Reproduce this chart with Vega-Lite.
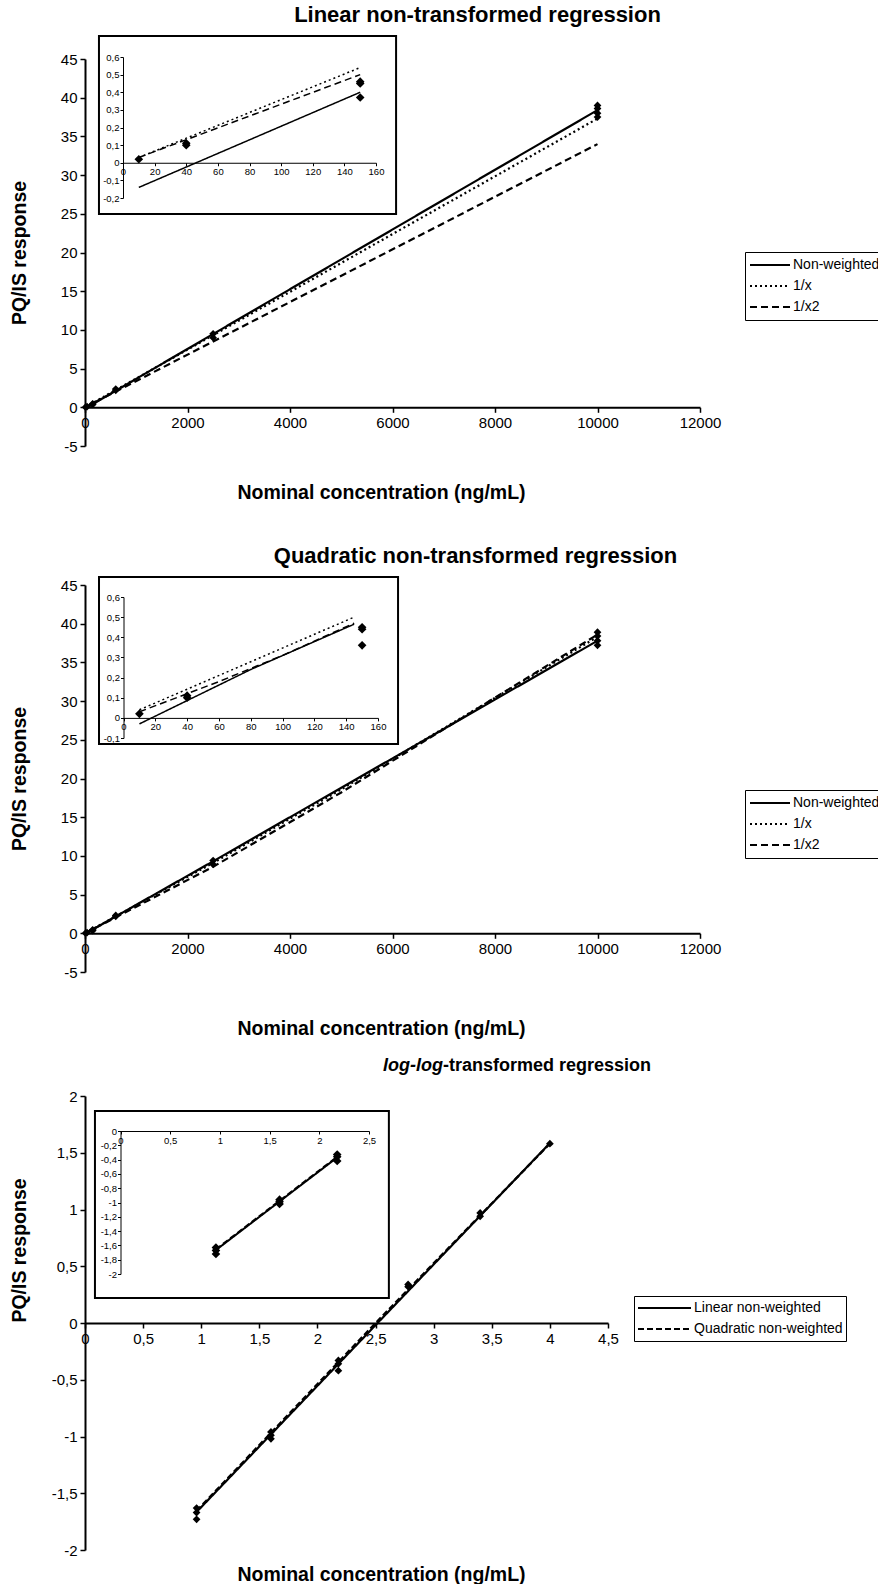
{
  "$schema": "https://vega.github.io/schema/vega-lite/v6.json",
  "background": "white",
  "padding": {"left": 9, "top": 4, "right": 0, "bottom": 0},
  "config": {
    "font": "Liberation Sans",
    "view": {"stroke": null},
    "axis": {"grid": false, "domainColor": "black", "domainWidth": 2, "tickColor": "black", "tickWidth": 1.5, "tickSize": 5, "labelColor": "black", "labelFontSize": 15, "labelOverlap": false, "labelFlush": false, "labelPadding": 3, "titleColor": "black", "titleFontSize": 19.5, "titleFontWeight": "bold", "tickCount": 40},
    "title": {"fontSize": 22, "fontWeight": "bold", "color": "black"},
    "legend": {"title": null, "orient": "none", "strokeColor": "black", "padding": 4, "symbolType": "stroke", "symbolSize": 1600, "symbolStrokeWidth": 2, "symbolStrokeColor": "black", "labelFontSize": 14, "labelColor": "black", "rowPadding": 3, "labelOffset": 2, "clipHeight": 18}
  },
  "spacing": 43,
  "resolve": {"scale": {"strokeDash": "independent"}, "legend": {"strokeDash": "independent"}},
  "datasets": {
    "p1pts": [
      {"conc": 10, "resp": 0.02}, {"conc": 40, "resp": 0.1}, {"conc": 150, "resp": 0.45}, {"conc": 150, "resp": 0.37},
      {"conc": 600, "resp": 2.2}, {"conc": 600, "resp": 2.35}, {"conc": 2500, "resp": 9.0}, {"conc": 2500, "resp": 9.5},
      {"conc": 10000, "resp": 37.5}, {"conc": 10000, "resp": 38.0}, {"conc": 10000, "resp": 38.6}, {"conc": 10000, "resp": 39.0}
    ],
    "p1lines": [
      {"model": "Non-weighted", "conc": 10, "resp": -0.14}, {"model": "Non-weighted", "conc": 10000, "resp": 38.4},
      {"model": "1/x", "conc": 10, "resp": 0.03}, {"model": "1/x", "conc": 10000, "resp": 37.3},
      {"model": "1/x2", "conc": 10, "resp": 0.03}, {"model": "1/x2", "conc": 10000, "resp": 34.0}
    ],
    "p1ipts": [
      {"conc": 10, "resp": 0.02}, {"conc": 40, "resp": 0.10}, {"conc": 40, "resp": 0.11},
      {"conc": 150, "resp": 0.45}, {"conc": 150, "resp": 0.46}, {"conc": 150, "resp": 0.37}
    ],
    "p1ilines": [
      {"model": "Non-weighted", "conc": 10, "resp": -0.14}, {"model": "Non-weighted", "conc": 150, "resp": 0.40},
      {"model": "1/x", "conc": 10, "resp": 0.03}, {"model": "1/x", "conc": 150, "resp": 0.54},
      {"model": "1/x2", "conc": 10, "resp": 0.03}, {"model": "1/x2", "conc": 150, "resp": 0.50}
    ],
    "p2pts": [
      {"conc": 10, "resp": 0.02}, {"conc": 40, "resp": 0.1}, {"conc": 150, "resp": 0.45}, {"conc": 150, "resp": 0.36},
      {"conc": 600, "resp": 2.2}, {"conc": 600, "resp": 2.3}, {"conc": 2500, "resp": 8.9}, {"conc": 2500, "resp": 9.4},
      {"conc": 10000, "resp": 37.2}, {"conc": 10000, "resp": 37.8}, {"conc": 10000, "resp": 38.4}, {"conc": 10000, "resp": 38.9}
    ],
    "p2lines": [
      {"model": "Non-weighted", "conc": 10, "resp": -0.03}, {"model": "Non-weighted", "conc": 2500, "resp": 9.3}, {"model": "Non-weighted", "conc": 5000, "resp": 18.8}, {"model": "Non-weighted", "conc": 10000, "resp": 37.8},
      {"model": "1/x", "conc": 10, "resp": 0.04}, {"model": "1/x", "conc": 2500, "resp": 9.1}, {"model": "1/x", "conc": 5000, "resp": 18.6}, {"model": "1/x", "conc": 10000, "resp": 38.3},
      {"model": "1/x2", "conc": 10, "resp": 0.03}, {"model": "1/x2", "conc": 2500, "resp": 8.6}, {"model": "1/x2", "conc": 5000, "resp": 18.2}, {"model": "1/x2", "conc": 10000, "resp": 38.6}
    ],
    "p2ipts": [
      {"conc": 10, "resp": 0.02}, {"conc": 40, "resp": 0.10}, {"conc": 40, "resp": 0.11},
      {"conc": 150, "resp": 0.45}, {"conc": 150, "resp": 0.44}, {"conc": 150, "resp": 0.36}
    ],
    "p2ilines": [
      {"model": "Non-weighted", "conc": 10, "resp": -0.03}, {"model": "Non-weighted", "conc": 80, "resp": 0.24}, {"model": "Non-weighted", "conc": 145, "resp": 0.465},
      {"model": "1/x", "conc": 10, "resp": 0.04}, {"model": "1/x", "conc": 145, "resp": 0.50},
      {"model": "1/x2", "conc": 10, "resp": 0.03}, {"model": "1/x2", "conc": 60, "resp": 0.18}, {"model": "1/x2", "conc": 100, "resp": 0.31}, {"model": "1/x2", "conc": 145, "resp": 0.47}
    ],
    "p3pts": [
      {"conc": 0.96, "resp": -1.63}, {"conc": 0.96, "resp": -1.67}, {"conc": 0.96, "resp": -1.73},
      {"conc": 1.6, "resp": -0.96}, {"conc": 1.6, "resp": -0.99}, {"conc": 1.6, "resp": -1.02},
      {"conc": 2.18, "resp": -0.33}, {"conc": 2.18, "resp": -0.36}, {"conc": 2.18, "resp": -0.42},
      {"conc": 2.78, "resp": 0.32}, {"conc": 2.78, "resp": 0.34},
      {"conc": 3.4, "resp": 0.94}, {"conc": 3.4, "resp": 0.97},
      {"conc": 4.0, "resp": 1.58}
    ],
    "p3lines": [
      {"model": "Linear non-weighted", "conc": 0.96, "resp": -1.665}, {"model": "Linear non-weighted", "conc": 4.0, "resp": 1.585},
      {"model": "Quadratic non-weighted", "conc": 0.96, "resp": -1.655}, {"model": "Quadratic non-weighted", "conc": 2.5, "resp": 0.0}, {"model": "Quadratic non-weighted", "conc": 4.0, "resp": 1.58}
    ],
    "p3ipts": [
      {"conc": 0.96, "resp": -1.63}, {"conc": 0.96, "resp": -1.67}, {"conc": 0.96, "resp": -1.72},
      {"conc": 1.6, "resp": -0.96}, {"conc": 1.6, "resp": -0.99}, {"conc": 1.6, "resp": -1.02},
      {"conc": 2.18, "resp": -0.33}, {"conc": 2.18, "resp": -0.36}, {"conc": 2.18, "resp": -0.42}
    ],
    "p3ilines": [
      {"model": "Linear non-weighted", "conc": 0.96, "resp": -1.665}, {"model": "Linear non-weighted", "conc": 2.18, "resp": -0.37},
      {"model": "Quadratic non-weighted", "conc": 0.96, "resp": -1.655}, {"model": "Quadratic non-weighted", "conc": 2.18, "resp": -0.36}
    ]
  },
  "vconcat": [
    {
      "width": 615, "height": 387,
      "title": {"text": "Linear non-transformed regression", "frame": "group", "anchor": "middle", "dx": 85, "offset": 8},
      "resolve": {"scale": {"x": "independent", "y": "independent"}, "axis": {"x": "independent", "y": "independent"}},
      "layer": [
        {
          "layer": [
            {"data": {"name": "p1pts"}, "mark": {"type": "point", "shape": "diamond", "filled": true, "color": "black", "size": 60, "opacity": 1},
             "encoding": {
              "x": {"field": "conc", "type": "quantitative", "scale": {"domain": [0, 12000], "nice": false, "zero": false},
                    "axis": {"orient": "bottom", "offset": -38.7, "tickCount": 40, "values": [0, 2000, 4000, 6000, 8000, 10000, 12000], "labelExpr": "datum.value + ''", "labelOverlap": false, "title": "Nominal concentration (ng/mL)", "titleX": 296, "titleY": 85, "titleBaseline": "middle"}},
              "y": {"field": "resp", "type": "quantitative", "scale": {"domain": [-5, 45], "nice": false, "zero": false},
                    "axis": {"orient": "left", "tickCount": 40, "values": [-5, 0, 5, 10, 15, 20, 25, 30, 35, 40, 45], "labelExpr": "datum.value + ''", "labelOverlap": false, "title": "PQ/IS response", "titleX": -66, "titleBaseline": "middle", "titleAngle": 270}}
             }},
            {"data": {"name": "p1lines"}, "mark": {"type": "line", "color": "black", "strokeWidth": 2.2},
             "encoding": {
              "x": {"field": "conc", "type": "quantitative"},
              "y": {"field": "resp", "type": "quantitative"},
              "strokeDash": {"field": "model", "type": "nominal", "scale": {"domain": ["Non-weighted", "1/x", "1/x2"], "range": [[1, 0], [2, 3], [7, 4]]}, "legend": {"legendX": 660, "legendY": 193}}}}
          ]
        },
        {
          "layer": [
            {"data": {"values": [{"box": "inset"}]}, "mark": {"type": "rect", "fill": "white", "stroke": "black", "strokeWidth": 2},
             "encoding": {
              "x": {"datum": -15.2, "type": "quantitative", "scale": {"domain": [0, 160], "range": [38, 291], "nice": false, "zero": false},
                    "axis": {"orient": "bottom", "offset": -283.25, "zindex": 2, "tickCount": 40, "values": [0, 20, 40, 60, 80, 100, 120, 140, 160], "labelExpr": "datum.value + ''", "labelOverlap": false, "title": null, "labelFontSize": 9.5, "domainWidth": 1, "tickSize": 3, "tickWidth": 1, "labelPadding": 1}},
              "x2": {"datum": 172.7},
              "y": {"datum": 0.719, "type": "quantitative", "scale": {"domain": [-0.2, 0.6], "range": [139, -2], "nice": false, "zero": false},
                    "axis": {"orient": "left", "offset": -38, "zindex": 2, "tickCount": 40, "values": [-0.2, -0.1, 0, 0.1, 0.2, 0.3, 0.4, 0.5, 0.6], "labelExpr": "replace(datum.value + '', '.', ',')", "labelOverlap": false, "title": null, "labelFontSize": 9.5, "domainWidth": 1, "tickSize": 3, "tickWidth": 1, "labelPadding": 1}},
              "y2": {"datum": -0.291}
             }},
            {"data": {"name": "p1ipts"}, "mark": {"type": "point", "shape": "diamond", "filled": true, "color": "black", "size": 75, "opacity": 1},
             "encoding": {"x": {"field": "conc", "type": "quantitative"}, "y": {"field": "resp", "type": "quantitative"}}},
            {"data": {"name": "p1ilines"}, "mark": {"type": "line", "color": "black", "strokeWidth": 1.5},
             "encoding": {"x": {"field": "conc", "type": "quantitative"}, "y": {"field": "resp", "type": "quantitative"},
              "strokeDash": {"field": "model", "type": "nominal"}}}
          ]
        }
      ]
    },
    {
      "spacing": 19,
      "resolve": {"scale": {"strokeDash": "independent"}, "legend": {"strokeDash": "independent"}},
      "vconcat": [
        {
          "width": 615, "height": 387,
          "title": {"text": "Quadratic non-transformed regression", "frame": "group", "anchor": "middle", "dx": 83, "offset": 8},
          "resolve": {"scale": {"x": "independent", "y": "independent"}, "axis": {"x": "independent", "y": "independent"}},
          "layer": [
            {
              "layer": [
                {"data": {"name": "p2pts"}, "mark": {"type": "point", "shape": "diamond", "filled": true, "color": "black", "size": 60, "opacity": 1},
                 "encoding": {
                  "x": {"field": "conc", "type": "quantitative", "scale": {"domain": [0, 12000], "nice": false, "zero": false},
                        "axis": {"orient": "bottom", "offset": -38.7, "tickCount": 40, "values": [0, 2000, 4000, 6000, 8000, 10000, 12000], "labelExpr": "datum.value + ''", "labelOverlap": false, "title": "Nominal concentration (ng/mL)", "titleX": 296, "titleY": 95, "titleBaseline": "middle"}},
                  "y": {"field": "resp", "type": "quantitative", "scale": {"domain": [-5, 45], "nice": false, "zero": false},
                        "axis": {"orient": "left", "tickCount": 40, "values": [-5, 0, 5, 10, 15, 20, 25, 30, 35, 40, 45], "labelExpr": "datum.value + ''", "labelOverlap": false, "title": "PQ/IS response", "titleX": -66, "titleBaseline": "middle", "titleAngle": 270}}
                 }},
                {"data": {"name": "p2lines"}, "mark": {"type": "line", "color": "black", "strokeWidth": 2.2},
                 "encoding": {
                  "x": {"field": "conc", "type": "quantitative"},
                  "y": {"field": "resp", "type": "quantitative"},
                  "strokeDash": {"field": "model", "type": "nominal", "scale": {"domain": ["Non-weighted", "1/x", "1/x2"], "range": [[1, 0], [2, 3], [7, 4]]}, "legend": {"legendX": 660, "legendY": 205}}}}
              ]
            },
            {
              "layer": [
                {"data": {"values": [{"box": "inset"}]}, "mark": {"type": "rect", "fill": "white", "stroke": "black", "strokeWidth": 2},
                 "encoding": {
                  "x": {"datum": -15.4, "type": "quantitative", "scale": {"domain": [0, 160], "range": [38.5, 293], "nice": false, "zero": false},
                        "axis": {"orient": "bottom", "offset": -254.1, "zindex": 2, "tickCount": 40, "values": [0, 20, 40, 60, 80, 100, 120, 140, 160], "labelExpr": "datum.value + ''", "labelOverlap": false, "title": null, "labelFontSize": 9.5, "domainWidth": 1, "tickSize": 3, "tickWidth": 1, "labelPadding": 1}},
                  "x2": {"datum": 172.6},
                  "y": {"datum": 0.699, "type": "quantitative", "scale": {"domain": [-0.1, 0.6], "range": [153, 12], "nice": false, "zero": false},
                        "axis": {"orient": "left", "offset": -38.5, "zindex": 2, "tickCount": 40, "values": [-0.1, 0, 0.1, 0.2, 0.3, 0.4, 0.5, 0.6], "labelExpr": "replace(datum.value + '', '.', ',')", "labelOverlap": false, "title": null, "labelFontSize": 9.5, "domainWidth": 1, "tickSize": 3, "tickWidth": 1, "labelPadding": 1}},
                  "y2": {"datum": -0.13}
                 }},
                {"data": {"name": "p2ipts"}, "mark": {"type": "point", "shape": "diamond", "filled": true, "color": "black", "size": 75, "opacity": 1},
                 "encoding": {"x": {"field": "conc", "type": "quantitative"}, "y": {"field": "resp", "type": "quantitative"}}},
                {"data": {"name": "p2ilines"}, "mark": {"type": "line", "color": "black", "strokeWidth": 1.5},
                 "encoding": {"x": {"field": "conc", "type": "quantitative"}, "y": {"field": "resp", "type": "quantitative"},
                  "strokeDash": {"field": "model", "type": "nominal"}}}
              ]
            }
          ]
        },
        {
          "width": 523, "height": 454,
          "resolve": {"scale": {"x": "independent", "y": "independent"}, "axis": {"x": "independent", "y": "independent"}},
          "layer": [
            {
              "layer": [
                {"data": {"name": "p3pts"}, "mark": {"type": "point", "shape": "diamond", "filled": true, "color": "black", "size": 60, "opacity": 1},
                 "encoding": {
                  "x": {"field": "conc", "type": "quantitative", "scale": {"domain": [0, 4.5], "nice": false, "zero": false},
                        "axis": {"orient": "bottom", "offset": -227, "tickCount": 40, "values": [0, 0.5, 1, 1.5, 2, 2.5, 3, 3.5, 4, 4.5], "labelExpr": "replace(datum.value + '', '.', ',')", "labelOverlap": false, "title": "Nominal concentration (ng/mL)", "titleX": 296, "titleY": 251, "titleBaseline": "middle"}},
                  "y": {"field": "resp", "type": "quantitative", "scale": {"domain": [-2, 2], "nice": false, "zero": false},
                        "axis": {"orient": "left", "tickCount": 40, "values": [-2, -1.5, -1, -0.5, 0, 0.5, 1, 1.5, 2], "labelExpr": "replace(datum.value + '', '.', ',')", "labelOverlap": false, "title": "PQ/IS response", "titleX": -66, "titleY": 154, "titleBaseline": "middle", "titleAngle": 270}}
                 }},
                {"data": {"name": "p3lines"}, "mark": {"type": "line", "color": "black", "strokeWidth": 2.2},
                 "encoding": {
                  "x": {"field": "conc", "type": "quantitative"},
                  "y": {"field": "resp", "type": "quantitative"},
                  "strokeDash": {"field": "model", "type": "nominal", "scale": {"domain": ["Linear non-weighted", "Quadratic non-weighted"], "range": [[1, 0], [6, 3]]}, "legend": {"legendX": 549, "legendY": 200, "symbolSize": 2809, "padding": 3}}}},
                {"data": {"values": [{"part": "log-log"}]}, "mark": {"type": "text", "align": "right", "baseline": "middle", "fontSize": 18, "fontWeight": "bold", "fontStyle": "italic", "color": "black"},
                 "encoding": {"x": {"datum": 3.08, "type": "quantitative"}, "y": {"datum": 2.264, "type": "quantitative"}, "text": {"field": "part"}}},
                {"data": {"values": [{"part": "-transformed regression"}]}, "mark": {"type": "text", "align": "left", "baseline": "middle", "fontSize": 18, "fontWeight": "bold", "color": "black"},
                 "encoding": {"x": {"datum": 3.08, "type": "quantitative"}, "y": {"datum": 2.264, "type": "quantitative"}, "text": {"field": "part"}}}
              ]
            },
            {
              "layer": [
                {"data": {"values": [{"box": "inset"}]}, "mark": {"type": "rect", "fill": "white", "stroke": "black", "strokeWidth": 2},
                 "encoding": {
                  "x": {"datum": -0.257, "type": "quantitative", "scale": {"domain": [0, 2.5], "range": [35.5, 284], "nice": false, "zero": false},
                        "axis": {"orient": "bottom", "offset": -419, "zindex": 2, "tickCount": 40, "values": [0, 0.5, 1, 1.5, 2, 2.5], "labelExpr": "replace(datum.value + '', '.', ',')", "labelOverlap": false, "title": null, "labelFontSize": 9.5, "domainWidth": 1, "tickSize": 3, "tickWidth": 1, "labelPadding": 1}},
                  "x2": {"datum": 2.70},
                  "y": {"datum": 0.28, "type": "quantitative", "scale": {"domain": [-2, 0], "range": [178, 35], "nice": false, "zero": false},
                        "axis": {"orient": "left", "offset": -35.5, "zindex": 2, "tickCount": 40, "values": [-2, -1.8, -1.6, -1.4, -1.2, -1, -0.8, -0.6, -0.4, -0.2, 0], "labelExpr": "replace(datum.value + '', '.', ',')", "labelOverlap": false, "title": null, "labelFontSize": 9.5, "domainWidth": 1, "tickSize": 3, "tickWidth": 1, "labelPadding": 1}},
                  "y2": {"datum": -2.336}
                 }},
                {"data": {"name": "p3ipts"}, "mark": {"type": "point", "shape": "diamond", "filled": true, "color": "black", "size": 75, "opacity": 1},
                 "encoding": {"x": {"field": "conc", "type": "quantitative"}, "y": {"field": "resp", "type": "quantitative"}}},
                {"data": {"name": "p3ilines"}, "mark": {"type": "line", "color": "black", "strokeWidth": 2},
                 "encoding": {"x": {"field": "conc", "type": "quantitative"}, "y": {"field": "resp", "type": "quantitative"},
                  "strokeDash": {"field": "model", "type": "nominal"}}}
              ]
            }
          ]
        }
      ]
    }
  ]
}
